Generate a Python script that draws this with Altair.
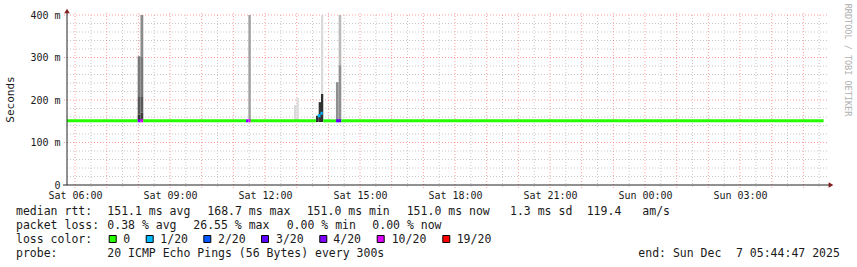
import altair as alt
import pandas as pd

# ---------------- data ----------------
# median rtt line segments
med_start = ["2025-12-06T05:44:47", "2025-12-06T07:58:40", "2025-12-06T08:04:00", "2025-12-06T08:09:20",
             "2025-12-06T11:24:00", "2025-12-06T11:28:30", "2025-12-06T11:33:00",
             "2025-12-06T13:39:50", "2025-12-06T13:45:05",
             "2025-12-06T13:50:20", "2025-12-06T14:14:20", "2025-12-06T14:24:30"]
med_end = ["2025-12-06T07:58:40", "2025-12-06T08:04:00", "2025-12-06T08:09:20", "2025-12-06T11:24:00",
           "2025-12-06T11:28:30", "2025-12-06T11:33:00", "2025-12-06T13:36:30",
           "2025-12-06T13:45:05", "2025-12-06T13:49:10",
           "2025-12-06T14:14:20", "2025-12-06T14:24:30", "2025-12-07T05:38:20"]
med_ms = [151, 151, 151, 151, 151, 151, 151, 163, 168.7, 151, 151, 151]
med_loss = ["0", "4/20", "10/20", "0", "4/20", "10/20", "0", "1/20", "1/20", "0", "3/20", "0"]

# smoke bands (ping spread), darkness 0..1
smoke_start = ["2025-12-06T07:58:40", "2025-12-06T07:58:40", "2025-12-06T07:58:40",
               "2025-12-06T08:04:00", "2025-12-06T08:04:00", "2025-12-06T08:04:00", "2025-12-06T08:04:00",
               "2025-12-06T11:28:30",
               "2025-12-06T12:55:00", "2025-12-06T12:59:40",
               "2025-12-06T13:36:30", "2025-12-06T13:41:40", "2025-12-06T13:46:00", "2025-12-06T13:46:00",
               "2025-12-06T14:14:20", "2025-12-06T14:19:30", "2025-12-06T14:19:30"]
smoke_end = ["2025-12-06T08:04:00", "2025-12-06T08:04:00", "2025-12-06T08:04:00",
             "2025-12-06T08:09:20", "2025-12-06T08:09:20", "2025-12-06T08:09:20", "2025-12-06T08:09:20",
             "2025-12-06T11:33:00",
             "2025-12-06T12:59:40", "2025-12-06T13:04:20",
             "2025-12-06T13:41:40", "2025-12-06T13:46:00", "2025-12-06T13:50:20", "2025-12-06T13:50:20",
             "2025-12-06T14:19:30", "2025-12-06T14:24:30", "2025-12-06T14:24:30"]
smoke_lo = [151, 166, 207, 151, 170, 207, 303, 151, 151, 151, 148, 148, 148, 214, 151, 151, 282]
smoke_hi = [166, 207, 303, 170, 207, 303, 400, 400, 188, 205, 163, 195, 214, 400, 242, 282, 400]
smoke_dark = [0.80, 0.66, 0.53, 0.76, 0.65, 0.53, 0.46, 0.38, 0.15, 0.13, 0.82, 0.80, 0.82, 0.14, 0.44, 0.44, 0.27]

loss_labels = ["0", "1/20", "2/20", "3/20", "4/20", "10/20", "19/20"]
loss_colors = ["#26ff00", "#00b8ff", "#0059ff", "#5e00ff", "#7e00ff", "#dd00ff", "#ff0000"]

y_ticks = [0, 100, 200, 300, 400]
y_minor = [20, 40, 60, 80, 120, 140, 160, 180, 220, 240, 260, 280, 320, 340, 360, 380]
y_major = [100, 200, 300, 400]

row1 = ["median rtt:", "151.1 ms avg", "168.7 ms max", "151.0 ms min", "151.0 ms now", "1.3 ms sd", "119.4", "am/s"]
row2 = ["packet loss:", "0.38 % avg", "26.55 % max", "0.00 % min", "0.00 % now"]
row3 = ["loss color:"]
row4 = ["probe:", "20 ICMP Echo Pings (56 Bytes) every 300s", "end: Sun Dec", "7 05:44:47 2025"]

# ---------------- layout (pixels) ----------------
LEFT, TOP, W, H = 67, 15, 760, 170
row1_x = [16, 107.3, 207.3, 306.7, 406.7, 510, 586.7, 642.3]
row2_x = [16, 107.3, 193.3, 286.7, 372.3]
row3_x = [16]
row4_x = [16, 107.3, 638.3, 736]
sq_x = [112.7, 149.7, 207.3, 265, 323.3, 380.7, 446.3]
sq_lab_x = [123.3, 160.3, 218, 276, 333.3, 391.7, 456.7]
row_base = [215, 229, 243, 257]
FONT = "DejaVu Sans Mono"
TXT = "#1a1a1a"

start_dt = alt.DateTime(year=2025, month=12, date=6, hours=5, minutes=44, seconds=47)
end_dt = alt.DateTime(year=2025, month=12, date=7, hours=5, minutes=44, seconds=47)
X_SCALE = alt.Scale(domain=[start_dt, end_dt], nice=False)
Y_SCALE = alt.Scale(domain=[0, 400], nice=False)

label_times = [alt.DateTime(year=2025, month=12, date=6, hours=h) for h in (6, 9, 12, 15, 18, 21)] + \
              [alt.DateTime(year=2025, month=12, date=7, hours=h) for h in (0, 3)]

hours_major = [t.strftime("%Y-%m-%dT%H:%M:%S") for t in pd.date_range("2025-12-06 06:00", "2025-12-07 05:00", freq="h")]
hours_minor = [t.strftime("%Y-%m-%dT%H:%M:%S") for t in pd.date_range("2025-12-06 06:30", "2025-12-07 05:30", freq="h")]

med_df = pd.DataFrame({"start": med_start, "end": med_end, "ms": med_ms, "loss": med_loss})
smoke_df = pd.DataFrame({"start": smoke_start, "end": smoke_end, "lo": smoke_lo, "hi": smoke_hi, "dark": smoke_dark})

X_AXIS = alt.Axis(values=label_times, format="%a %H:%M", formatType="time", labelFont=FONT, labelFontSize=10,
                  labelColor=TXT, grid=False, domain=False, ticks=False, labelPadding=5, title=None,
                  labelFlush=False, labelOverlap=False)
Y_AXIS = alt.Axis(values=y_ticks, labelExpr="datum.value == 0 ? '0' : datum.value + ' m'", labelFont=FONT,
                  labelFontSize=10, labelColor=TXT, grid=False, domain=False, ticks=False, labelPadding=7,
                  title=None, labelBaseline="middle")

vminor = alt.Chart(pd.DataFrame({"t": hours_minor})).mark_rule(color="#c8c8c8", strokeDash=[1, 2], strokeWidth=1).encode(
    x=alt.X("t:T", scale=X_SCALE, axis=X_AXIS), y=alt.value(0), y2=alt.value(H + 2))
hminor = alt.Chart(pd.DataFrame({"v": y_minor})).mark_rule(color="#c8c8c8", strokeDash=[1, 2], strokeWidth=1).encode(
    y=alt.Y("v:Q", scale=Y_SCALE, axis=Y_AXIS), x=alt.value(0), x2=alt.value(W + 2))
vmajor = alt.Chart(pd.DataFrame({"t": hours_major})).mark_rule(color="#ff5f5f", opacity=0.6, strokeDash=[1, 2], strokeWidth=1).encode(
    x=alt.X("t:T", scale=X_SCALE, axis=X_AXIS), y=alt.value(-2), y2=alt.value(H + 3))
hmajor = alt.Chart(pd.DataFrame({"v": y_major})).mark_rule(color="#ff5f5f", opacity=0.6, strokeDash=[1, 2], strokeWidth=1).encode(
    y=alt.Y("v:Q", scale=Y_SCALE, axis=Y_AXIS), x=alt.value(-3), x2=alt.value(W + 2))

smoke = alt.Chart(smoke_df).mark_rect(clip=True).encode(
    x=alt.X("start:T", scale=X_SCALE, axis=X_AXIS), x2="end:T",
    y=alt.Y("lo:Q", scale=Y_SCALE, axis=Y_AXIS), y2="hi:Q",
    color=alt.Color("dark:Q", scale=alt.Scale(domain=[0, 1], range=["#ffffff", "#000000"], interpolate="rgb"), legend=None))

median = alt.Chart(med_df).mark_rule(strokeWidth=3, strokeCap="butt").encode(
    x=alt.X("start:T", scale=X_SCALE, axis=X_AXIS), x2="end:T",
    y=alt.Y("ms:Q", scale=Y_SCALE, axis=Y_AXIS),
    color=alt.Color("loss:N", scale=alt.Scale(domain=loss_labels, range=loss_colors), legend=None))

yline = alt.Chart(pd.DataFrame({"a": [0]})).mark_rule(color="#222222", strokeWidth=1).encode(
    x=alt.value(0), y=alt.value(-4), y2=alt.value(H))
xline = alt.Chart(pd.DataFrame({"a": [0]})).mark_rule(color="#222222", strokeWidth=1).encode(
    y=alt.value(H), x=alt.value(-4), x2=alt.value(W + 4))
arrow_up = alt.Chart(pd.DataFrame({"a": [0]})).mark_point(shape="triangle-up", filled=True, size=30, color="#7f1f1f", opacity=1).encode(
    x=alt.value(0), y=alt.value(-4))
arrow_right = alt.Chart(pd.DataFrame({"a": [0]})).mark_point(shape="triangle-right", filled=True, size=30, color="#7f1f1f", opacity=1).encode(
    x=alt.value(W + 4), y=alt.value(H))

texts, xs, ys = [], [], []
for row, rx, base in ((row1, row1_x, row_base[0]), (row2, row2_x, row_base[1]),
                      (row3, row3_x, row_base[2]), (row4, row4_x, row_base[3])):
    for s, x in zip(row, rx):
        texts.append(s); xs.append(x - LEFT); ys.append(base - TOP)
for s, x in zip(loss_labels, sq_lab_x):
    texts.append(s); xs.append(x - LEFT); ys.append(row_base[2] - TOP)
text_df = pd.DataFrame({"text": texts, "px": xs, "py": ys})
legend_text = alt.Chart(text_df).mark_text(font=FONT, fontSize=11.5, align="left", baseline="alphabetic", color=TXT).encode(
    x=alt.X("px:Q", scale=None, axis=None), y=alt.Y("py:Q", scale=None, axis=None), text="text:N")

sq_df = pd.DataFrame({"px": [x - LEFT for x in sq_x], "py": [239 - TOP] * len(sq_x), "c": loss_colors})
squares = alt.Chart(sq_df).mark_square(size=49, stroke="#000000", strokeWidth=1, opacity=1).encode(
    x=alt.X("px:Q", scale=None, axis=None), y=alt.Y("py:Q", scale=None, axis=None),
    fill=alt.Fill("c:N", scale=None))

ytitle = alt.Chart(pd.DataFrame({"text": ["Seconds"]})).mark_text(font=FONT, fontSize=11, angle=270, align="center",
                                                                  baseline="middle", color=TXT).encode(
    x=alt.value(11 - LEFT), y=alt.value(99.5 - TOP), text="text:N")
watermark = alt.Chart(pd.DataFrame({"text": ["RRDTOOL / TOBI OETIKER"]})).mark_text(font=FONT, fontSize=8.5, angle=90,
                                                                                   align="center", baseline="middle",
                                                                                   color="#b0b0b0").encode(
    x=alt.value(847.7 - LEFT), y=alt.value(60 - TOP), text="text:N")

chart = alt.layer(vminor, hminor, vmajor, hmajor, smoke, median, yline, xline, arrow_up, arrow_right,
                  legend_text, squares, ytitle, watermark).properties(
    width=W, height=H, autosize=alt.AutoSizeParams(type="none"),
    padding={"left": LEFT, "top": TOP, "right": 857 - LEFT - W, "bottom": 267 - TOP - H},
    background="#ffffff").configure_view(stroke=None)

chart.save("out.html", embed_options={"renderer": "svg", "actions": False})
